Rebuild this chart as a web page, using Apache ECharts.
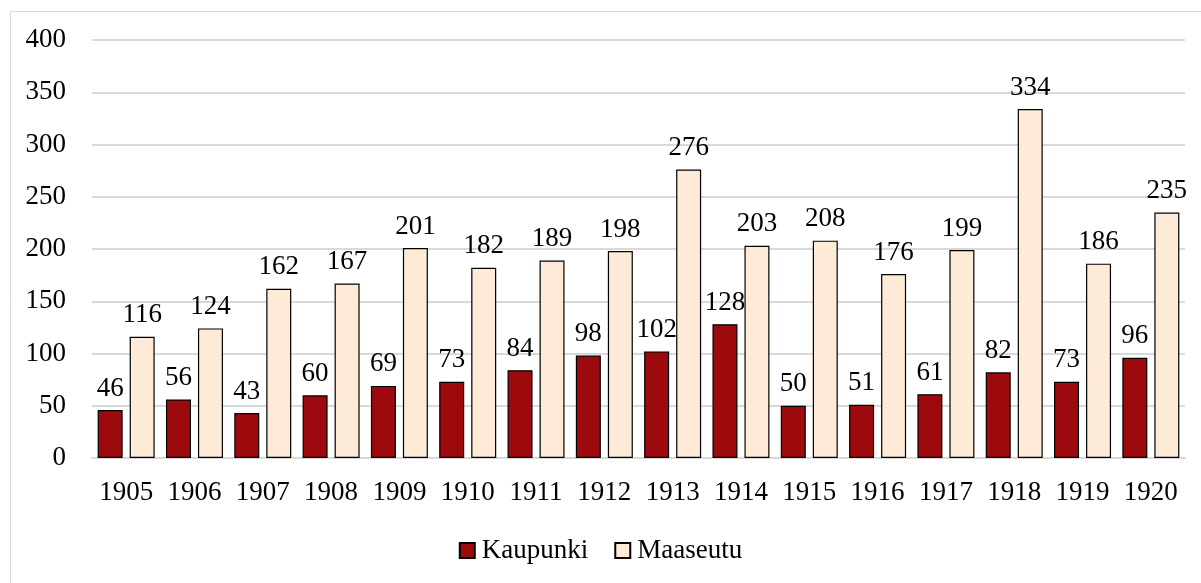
<!DOCTYPE html>
<html>
<head>
<meta charset="utf-8">
<script src="https://cdn.jsdelivr.net/npm/echarts@6/dist/echarts.min.js"></script>
<style>
  html, body { margin: 0; padding: 0; background: #fff; }
  #chart { width: 1201px; height: 583px; }
</style>
</head>
<body>
<div id="chart"></div>
<script>
// vuodet
var years = ['1905', '1906', '1907', '1908', '1909', '1910', '1911', '1912',
             '1913', '1914', '1915', '1916', '1917', '1918', '1919', '1920'];
var kaupunki = [46, 56, 43, 60, 69, 73, 84, 98, 102, 128, 50, 51, 61, 82, 73, 96];
var maaseutu = [116, 124, 162, 167, 201, 182, 189, 198, 276, 203, 208, 176, 199, 334, 186, 235];

var font = '"Liberation Serif", "DejaVu Serif", serif';
var fs = 27;

var myChart = echarts.init(document.getElementById('chart'));

var option = {
  backgroundColor: '#fff',
  animation: false,
  textStyle: { fontFamily: font, color: '#000' },
  // kehys
  graphic: [{
    type: 'rect',
    shape: { x: 10.5, y: 11.5, width: 1300, height: 700 },
    style: { fill: 'none', stroke: '#d9d9d9', lineWidth: 1 },
    silent: true
  }],
  grid: { left: 92, right: 16, top: 40, bottom: 125 },
  legend: {
    bottom: 14,
    left: 'center',
    icon: 'rect',
    itemWidth: 15,
    itemHeight: 15,
    itemGap: 26,
    textStyle: { fontFamily: font, fontSize: fs, color: '#000', padding: [0, 0, 0, 2] },
    data: ['Kaupunki', 'Maaseutu']
  },
  xAxis: {
    type: 'category',
    data: years,
    axisLine: { show: true, lineStyle: { color: '#d9d9d9', width: 2 } },
    axisTick: { show: false },
    axisLabel: { interval: 0, fontFamily: font, fontSize: fs, color: '#000', margin: 21 }
  },
  yAxis: {
    type: 'value',
    min: 0,
    max: 400,
    interval: 50,
    axisLine: { show: false },
    axisTick: { show: false },
    axisLabel: { fontFamily: font, fontSize: fs, color: '#000', margin: 26 },
    splitLine: { lineStyle: { color: '#d9d9d9', width: 2 } }
  },
  series: [
    {
      name: 'Kaupunki',
      type: 'bar',
      data: kaupunki,
      barWidth: 25,
      barGap: '28%',
      itemStyle: { color: '#9c0a0e', borderColor: '#000', borderWidth: 1.2 },
      label: { show: true, position: 'top', distance: 8, fontFamily: font, fontSize: fs, color: '#000' }
    },
    {
      name: 'Maaseutu',
      type: 'bar',
      data: maaseutu,
      barWidth: 25,
      itemStyle: { color: '#fdebd7', borderColor: '#000', borderWidth: 1.2 },
      label: { show: true, position: 'top', distance: 8, fontFamily: font, fontSize: fs, color: '#000' }
    }
  ]
};

myChart.setOption(option);
</script>
</body>
</html>
